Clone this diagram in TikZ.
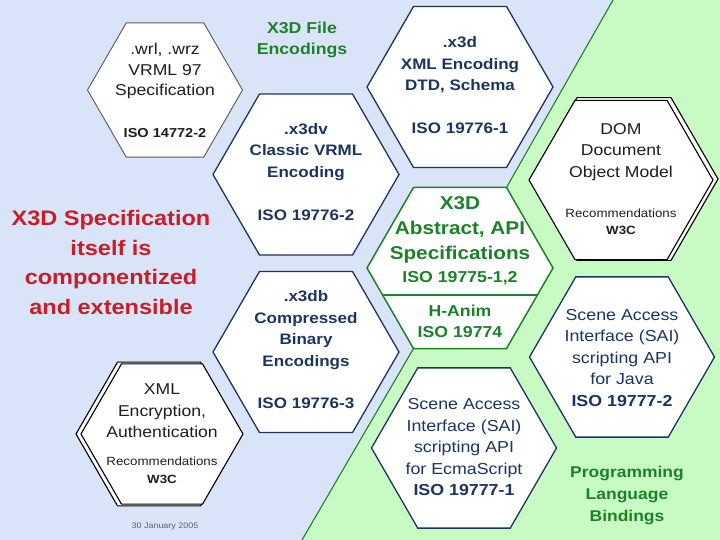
\documentclass[tikz,border=0pt]{standalone}
\usepackage{fontspec}
\setmainfont{Liberation Sans}[FakeStretch=1.12]
\usepackage{xcolor}
\usetikzlibrary{shapes.geometric}
\definecolor{bgblue}{RGB}{218,228,248}
\definecolor{bggreen}{RGB}{200,250,196}
\definecolor{edgegreen}{RGB}{32,128,40}
\definecolor{navy}{RGB}{28,52,96}
\definecolor{titlegreen}{RGB}{28,130,40}
\definecolor{specred}{RGB}{200,30,42}
\definecolor{ink}{RGB}{30,30,30}

\begin{document}
\begin{tikzpicture}[x=1pt,y=-1pt,
  hex/.style={regular polygon,regular polygon sides=6,inner sep=0pt,outer sep=0pt,fill=white},
  enc/.style={hex,draw=navy,line width=1.3pt,minimum size=186pt},
  w3c/.style={hex,draw=black,line width=1.1pt},
  api/.style={hex,draw=edgegreen,line width=1.5pt,minimum size=186pt},
  enctxt/.style={align=center,text=navy,font=\bfseries\fontsize{15.2}{21.5}\selectfont},
  plaintxt/.style={align=center,text=ink,font=\fontsize{15.7}{21.5}\selectfont},
  rectxt/.style={align=center,text=ink,font=\fontsize{11.9}{17.5}\selectfont},
  apitxt/.style={align=center,text=titlegreen,font=\bfseries\fontsize{15.8}{21}\selectfont},
  saitxt/.style={align=center,text=navy,font=\fontsize{15.9}{21.5}\selectfont},
  title/.style={align=center,text=titlegreen,font=\bfseries\fontsize{15.8}{21.5}\selectfont}]
\fill[bgblue] (0,0) rectangle (720,540);
\useasboundingbox (0,0) rectangle (720,540);
\fill[bggreen] (613,0) -- (720,0) -- (720,540) -- (302,540) -- (413.5,348.5) -- (367,268)
  -- (413.5,187.5) -- (506.5,187.5) -- cycle;
\draw[edgegreen,line width=1.1pt] (302,540) -- (413.5,348.5);
\draw[edgegreen,line width=1.1pt] (506.5,187.5) -- (613,0);

\node[hex,draw=ink!75,line width=0.9pt,minimum size=155pt] (vrml) at (165,90) {};
\node[plaintxt,font=\fontsize{15.7}{20.5}\selectfont] (vrmltxt) at (165,71) {.wrl, .wrz\\VRML 97\\Specification};
\node[plaintxt,font=\bfseries\fontsize{13}{16}\selectfont] (vrmliso) at (165,133) {ISO 14772-2};

\node[title] (enctitle) at (302,40) {X3D File\\Encodings};

\node[enc] (x3d) at (460,87) {};
\node[enctxt] (x3dtxt) at (460,65) {.x3d\\XML Encoding\\DTD, Schema};
\node[enctxt] (x3diso) at (460,128) {ISO 19776-1};

\node[enc] (x3dv) at (306,174.5) {};
\node[enctxt] (x3dvtxt) at (306,152) {.x3dv\\Classic VRML\\Encoding};
\node[enctxt] (x3dviso) at (306,215) {ISO 19776-2};

\node[enc] (x3db) at (306,352) {};
\node[enctxt] (x3dbtxt) at (306,330) {.x3db\\Compressed\\Binary\\Encodings};
\node[enctxt] (x3dbiso) at (306,403) {ISO 19776-3};

\node[w3c,minimum size=188pt] (domshade) at (624,179) {};
\node[w3c,minimum size=184pt] (dom) at (621,180) {};
\node[plaintxt] (domtxt) at (621,152) {DOM\\Document\\Object Model};
\node[rectxt] (domrec) at (621,222) {Recommendations\\\textbf{W3C}};

\node[w3c,minimum size=166pt] (xmlshade) at (159,434) {};
\node[w3c,minimum size=162pt] (xml) at (162,434) {};
\node[plaintxt] (xmltxt) at (162,411) {XML\\Encryption,\\Authentication};
\node[rectxt] (xmlrec) at (162,470.5) {Recommendations\\\textbf{W3C}};

\node[api] (spec) at (460,268) {};
\draw[edgegreen,line width=1.3pt] (382.6,295) -- (537.4,295);
\node[apitxt,font=\bfseries\fontsize{18.5}{25}\selectfont] (spectxt) at (460,230) {X3D\\Abstract, API\\Specifications};
\node[apitxt] (speciso) at (460,278) {ISO 19775-1,2};
\node[apitxt] (hanim) at (460,321.5) {H-Anim\\ISO 19774};

\node[enc,minimum size=185pt] (saijava) at (622,357) {};
\node[saitxt] (saijavatxt) at (622,358) {Scene Access\\Interface (SAI)\\scripting API\\for Java\\\textbf{ISO 19777-2}};

\node[enc,minimum size=185pt] (saiecma) at (464,448) {};
\node[saitxt] (saiecmatxt) at (464,447.5) {Scene Access\\Interface (SAI)\\scripting API\\for EcmaScript\\\textbf{ISO 19777-1}};

\node[title,font=\bfseries\fontsize{15.6}{22}\selectfont] (bindings) at (627,495) {Programming\\Language\\Bindings};

\node[align=center,text=specred,font=\bfseries\fontsize{21}{29.5}\selectfont] (claim) at (111,262.5)
  {X3D Specification\\itself is\\componentized\\and extensible};

\node[text=ink!70,font=\fontsize{8}{10}\selectfont] (date) at (165,527) {30 January 2005};
\end{tikzpicture}
\end{document}
